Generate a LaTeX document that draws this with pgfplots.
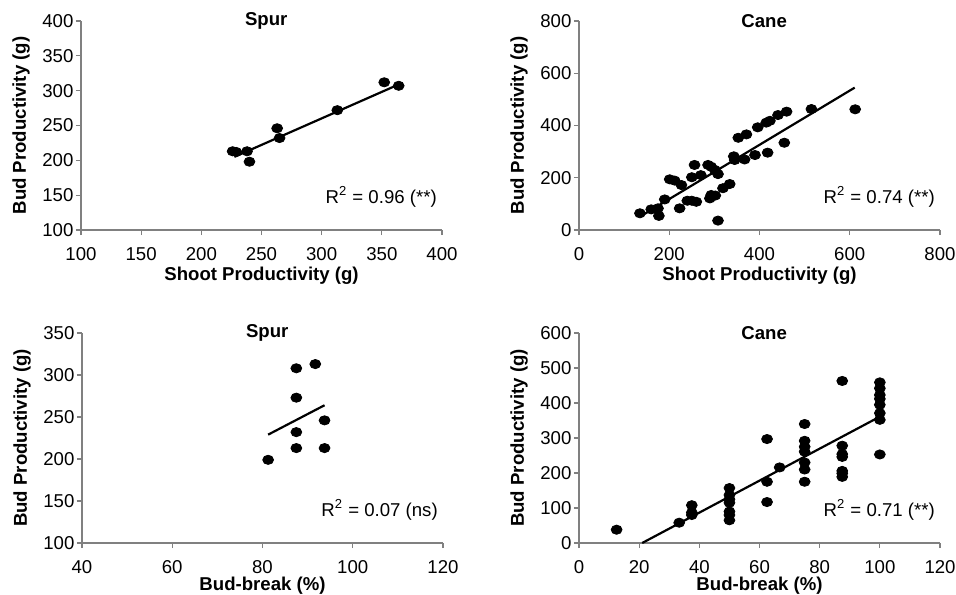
\documentclass[border=0pt]{standalone}
\usepackage{fontspec}
\setmainfont{Liberation Sans}
\usepackage{pgfplots}
\pgfplotsset{compat=1.18}

\pgfplotsset{
  panel/.style={
    scale only axis,
    width=180.5pt, height=104.5pt,
    anchor=south west,
    axis lines*=left,
    axis line style={draw=gray, line width=0.6pt},
    tick style={draw=gray, line width=0.6pt},
    tick align=outside,
    major tick length=2.6pt,
    font=\fontsize{9.3}{11}\selectfont,
    tick label style={font=\fontsize{9.3}{11}\selectfont, inner sep=1pt},
    xticklabel style={yshift=-5pt},
    /pgf/number format/assume math mode=true,
    /pgf/number format/1000 sep={},
    xlabel style={font=\fontsize{9.3}{11}\selectfont\bfseries,
      at={([yshift=-23pt]axis description cs:0.5,0)}, anchor=center},
    ylabel style={font=\fontsize{9.3}{11}\selectfont\bfseries,
      at={([xshift=-30pt]axis description cs:0,0.5)}, anchor=center},
    title style={font=\fontsize{9.3}{11}\selectfont\bfseries,
      at={(axis description cs:0.513,1)}, anchor=center, yshift=-6pt},
    clip=false,
  },
  lower/.style={xlabel style={at={([yshift=-21.5pt]axis description cs:0.5,0)}}},
  pts/.style={only marks, mark=*, mark size=2.3pt,
    mark options={draw=black, fill=black, xscale=1.18}},
  fit/.style={black, line width=1.1pt, no marks},
}

\begin{document}
\begin{tikzpicture}
\useasboundingbox (0,0) rectangle (478pt,297pt);

% top left: spur, shoot vs bud
\begin{axis}[panel, at={(40.5pt,182pt)},
  xmin=100, xmax=400, ymin=100, ymax=400,
  xtick={100,150,...,400}, ytick={100,150,...,400},
  title={Spur},
  xlabel={Shoot Productivity (g)}, ylabel={Bud Productivity (g)}]
\addplot[pts] coordinates {
  (226,213) (229,212) (238,213) (240,198) (263,246)
  (265,232) (313,272) (352,312) (364,307)
};
\addplot[fit] coordinates {(227.5,205) (362.8,308)};
\node[anchor=east] at (axis description cs:1.005,0.158) {R\textsuperscript{2} = 0.96 (**)};
\end{axis}

% top right: cane, shoot vs bud
\begin{axis}[panel, at={(289.5pt,182pt)},
  xmin=0, xmax=800, ymin=0, ymax=800,
  xtick={0,200,...,800}, ytick={0,200,...,800},
  title={Cane},
  xlabel={Shoot Productivity (g)}, ylabel={Bud Productivity (g)}]
\addplot[pts] coordinates {
  (135,64) (160,79) (175,83) (177,54) (190,117) (201,194) (212,189)
  (227,172) (223,83) (240,112) (250,112) (250,202) (256,249) (260,108)
  (270,210) (286,249) (293,242) (301,230) (308,214) (290,121) (293,134)
  (302,132) (308,36) (319,160) (334,176) (345,268) (343,282) (353,353)
  (371,366) (367,270) (390,287) (396,393) (415,411) (423,418) (418,296)
  (441,440) (460,453) (455,334) (515,463) (612,462)
};
\addplot[fit] coordinates {(135,51) (611,545)};
\node[anchor=east] at (axis description cs:1.005,0.158) {R\textsuperscript{2} = 0.74 (**)};
\end{axis}

% bottom left: spur, bud-break vs bud
\begin{axis}[panel, lower, at={(41pt,25.5pt)}, height=105pt,
  xmin=40, xmax=120, ymin=100, ymax=350,
  xtick={40,60,...,120}, ytick={100,150,...,350},
  title={Spur},
  xlabel={Bud-break (\%)}, ylabel={Bud Productivity (g)}]
\addplot[pts] coordinates {
  (81.25,199) (87.5,213) (87.5,232) (87.5,273) (87.5,308)
  (91.7,313) (93.75,246) (93.75,213)
};
\addplot[fit] coordinates {(81.25,229) (93.75,264)};
\node[anchor=east] at (axis description cs:1.005,0.157) {R\textsuperscript{2} = 0.07 (ns)};
\end{axis}

% bottom right: cane, bud-break vs bud
\begin{axis}[panel, lower, at={(289.5pt,25.5pt)}, height=105pt,
  xmin=0, xmax=120, ymin=0, ymax=600,
  xtick={0,20,...,120}, ytick={0,100,...,600},
  title={Cane},
  xlabel={Bud-break (\%)}, ylabel={Bud Productivity (g)}]
\addplot[pts] coordinates {
  (12.5,38) (33.3,58) (37.5,108) (37.5,87) (37.5,80)
  (50,157) (50,137) (50,125) (50,115) (50,90) (50,80) (50,65)
  (62.5,297) (62.5,175) (62.5,117) (66.7,216)
  (75,340) (75,292) (75,275) (75,261) (75,230) (75,210) (75,175)
  (87.5,463) (87.5,278) (87.5,254) (87.5,246) (87.5,206) (87.5,199) (87.5,189)
  (100,459) (100,442) (100,423) (100,412) (100,395) (100,371) (100,352) (100,253)
};
\addplot[fit] coordinates {(21,0) (100,361)};
\node[anchor=east] at (axis description cs:1.005,0.157) {R\textsuperscript{2} = 0.71 (**)};
\end{axis}
\end{tikzpicture}
\end{document}
